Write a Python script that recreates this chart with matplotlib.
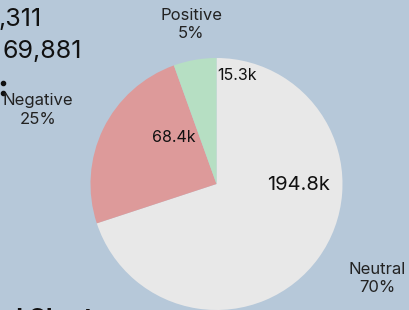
import matplotlib
matplotlib.use("Agg")
import matplotlib.pyplot as plt

# sentiment data
labels = ["Neutral", "Negative", "Positive"]
counts = [194.8, 68.4, 15.3]          # thousands
shares = ["70%", "25%", "5%"]
colors = ["#e8e8e8", "#dd9a9a", "#b6dfc3"]

# card numbers partly visible at top-left
card_values = [",311", "69,881"]

plt.rcParams['font.family'] = ['Inter', 'DejaVu Sans']
bg = "#b6c8d9"

W, H = 409, 310
fig = plt.figure(figsize=(W/100, H/100), dpi=100, facecolor=bg)
ax = fig.add_axes([0, 0, 1, 1])
ax.set_facecolor(bg)

# pie, centre and radius in pixel units (y measured from bottom)
cx, cy, r = 216.5, H - 184, 126
ax.pie(counts, colors=colors, startangle=90, counterclock=False,
       center=(cx, cy), radius=r, wedgeprops=dict(linewidth=0))
ax.set_xlim(0, W)
ax.set_ylim(0, H)
ax.set_aspect('equal')
ax.axis('off')

# value labels inside
ax.text(299, H - 185, "%.1fk" % counts[0], fontsize=14.5, ha='center', va='center', color='#111111')
ax.text(174, H - 137, "%.1fk" % counts[1], fontsize=11.5, ha='center', va='center', color='#111111')
ax.text(237, H - 76, "%.1fk" % counts[2], fontsize=11.5, ha='center', va='center', color='#111111')

# category labels outside
lab_kw = dict(fontsize=12, ha='center', va='center', color='#222222', linespacing=1.25)
ax.text(377, H - 279, labels[0] + "\n" + shares[0], **lab_kw)
ax.text(38, H - 110, labels[1] + "\n" + shares[1], **lab_kw)
ax.text(191, H - 24, labels[2] + "\n" + shares[2], **lab_kw)

# bits of other dashboard cards
ax.text(-2, H - 20, card_values[0], fontsize=18, ha='left', va='center', color='#111111')
ax.text(2, H - 52, card_values[1], fontsize=18, ha='left', va='center', color='#111111')
ax.plot([3, 3], [H - 83, H - 93], 'o', color='#111111', markersize=3)
ax.text(8, H - 325, "d Chart", fontsize=17, fontweight='bold', ha='left', va='baseline',
        color='#111111', clip_on=False)

fig.savefig("out.png", dpi=100, facecolor=bg)
